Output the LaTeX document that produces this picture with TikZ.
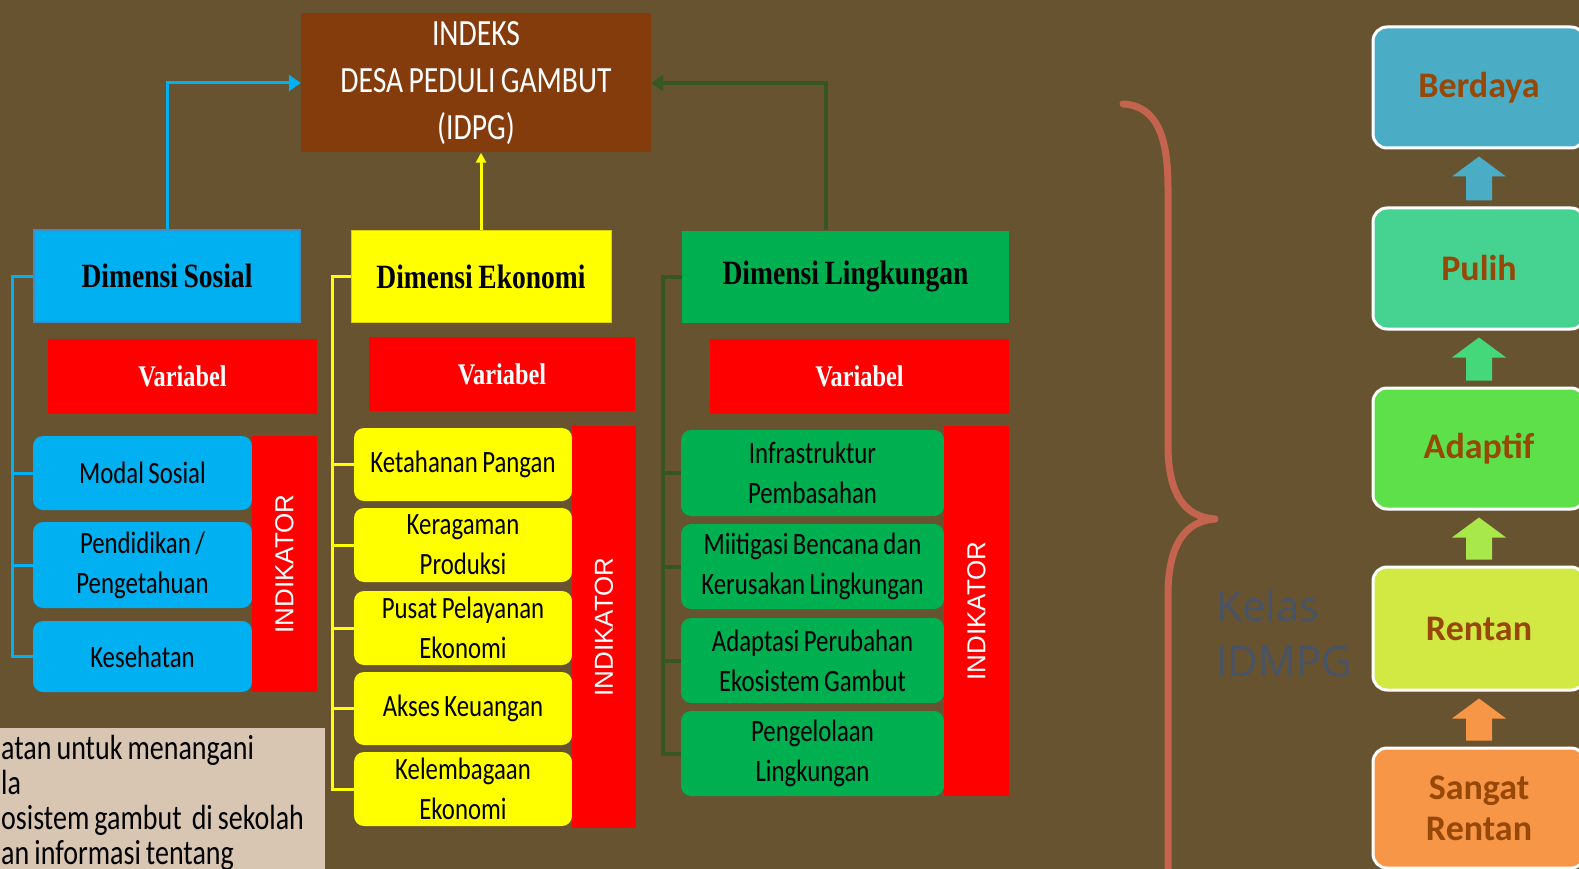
\documentclass[tikz,border=0pt]{standalone}
\usepackage{fontspec}
\setmainfont{Carlito}
\newfontfamily\calfont{Carlito}[FakeStretch=0.8, WordSpace=0.8]
\newfontfamily\camfont{Liberation Serif}[FakeStretch=0.81, WordSpace=0.81]
\newfontfamily\arfont{Liberation Sans}
\newfontfamily\segfont{Open Sans}
\usepackage{tikz}
\usetikzlibrary{arrows.meta, positioning, calc}
\usepackage{xcolor}
\definecolor{PeatBg}{HTML}{685331}
\definecolor{PeatBrown}{HTML}{843C0C}
\definecolor{SocBlue}{HTML}{00B0F0}
\definecolor{SocEdge}{HTML}{3A8FC8}
\definecolor{EcoYellow}{HTML}{FFFF00}
\definecolor{EcoEdge}{HTML}{D8D000}
\definecolor{EnvGreen}{HTML}{00B050}
\definecolor{EnvDark}{HTML}{375623}
\definecolor{VarRed}{HTML}{FF0000}
\definecolor{NoteSand}{HTML}{D8C6B3}
\definecolor{BraceRed}{HTML}{C4644E}
\definecolor{KelasGrey}{HTML}{475366}
\definecolor{LvlText}{HTML}{974706}
\definecolor{LvlBerdaya}{HTML}{4BACC6}
\definecolor{LvlPulih}{HTML}{46D291}
\definecolor{LvlAdaptif}{HTML}{5EE04A}
\definecolor{LvlRentan}{HTML}{D2E944}
\definecolor{LvlSangat}{HTML}{F79646}
\definecolor{ArrPulih}{HTML}{45D87A}
\definecolor{ArrAdaptif}{HTML}{A8E84B}
\tikzset{
    % Node styles
    indexbox/.style={
        rectangle,
        fill=PeatBrown,
        minimum width=350pt,
        minimum height=139pt,
        inner sep=0pt,
        align=center,
        text=white,
        font=\calfont\fontsize{37}{47}\selectfont
    },
    dimbox/.style={
        rectangle,
        minimum height=92pt,
        inner sep=0pt,
        text=black,
        font=\camfont\bfseries\fontsize{34}{38}\selectfont
    },
    varbox/.style={
        rectangle,
        fill=VarRed,
        minimum height=75pt,
        inner sep=0pt,
        text=white,
        font=\camfont\bfseries\fontsize{30}{34}\selectfont
    },
    indbox/.style={
        rectangle,
        rounded corners=10pt,
        inner sep=0pt,
        align=center,
        text=black,
        font=\calfont\fontsize{31}{40}\selectfont
    },
    indikator/.style={
        rectangle,
        fill=VarRed,
        inner sep=0pt,
        rotate=90,
        text=white,
        font=\arfont\fontsize{26}{30}\selectfont
    },
    lvlbox/.style={
        rectangle,
        rounded corners=14pt,
        draw=white,
        line width=3pt,
        minimum width=212pt,
        minimum height=121pt,
        align=center,
        text=LvlText,
        font=\bfseries\fontsize{36}{41}\selectfont
    },
    notebox/.style={
        rectangle,
        fill=NoteSand,
        anchor=north west,
        text width=323pt,
        minimum height=150pt,
        inner xsep=1pt,
        inner ysep=0pt,
        align=flush left,
        text=black,
        font=\calfont\fontsize{35}{35}\selectfont
    },
    % Arrow styles
    sosline/.style={SocBlue, line width=3pt},
    ekoline/.style={EcoYellow, line width=3pt},
    linline/.style={EnvDark, line width=4pt}
}
% block arrow between two levels: lower, upper, colour
\newcommand{\levelstep}[3]{%
    \coordinate (lsb) at ($(#1.north)+(0,-6)$);
    \coordinate (lst) at ($(#2.south)+(0,7)$);
    \fill[#3] ($(lsb)+(-13,0)$) -- ($(lst)+(-13,20)$) -- ($(lst)+(-27,20)$) -- (lst)
        -- ($(lst)+(27,20)$) -- ($(lst)+(13,20)$) -- ($(lsb)+(13,0)$) -- cycle;
}
\begin{document}
\begin{tikzpicture}[x=1pt, y=-1pt]
    % Canvas
    \fill[PeatBg] (0,0) rectangle (1579,869);
    \useasboundingbox (0,0) rectangle (1579,869);

    % Index
    \node[indexbox] (idpg) at (476,83) {INDEKS\\DESA PEDULI GAMBUT\\(IDPG)};

    % Dimensions
    \node[dimbox, fill=SocBlue, draw=SocEdge, line width=1.5pt, minimum width=266pt] (sosial) at (167,276) {Dimensi Sosial};
    \node[dimbox, fill=EcoYellow, draw=EcoEdge, minimum width=260pt] (ekonomi) at (481,276.5) {Dimensi Ekonomi};
    \node[dimbox, fill=EnvGreen, minimum width=327pt] (lingkungan) at (845.5,276.5) {Dimensi Lingkungan};

    % Variables
    \node[varbox, minimum width=269pt] (varsos) at (182.5,376.5) {Variabel};
    \node[varbox, minimum width=266pt, minimum height=74pt] (vareko) at (502,374) {Variabel};
    \node[varbox, minimum width=299pt] (varlin) at (859.5,376.5) {Variabel};

    % Indicators - social
    \node[indbox, fill=SocBlue, minimum width=219pt, minimum height=74pt] (modal) at (142.5,473) {Modal Sosial};
    \node[indbox, fill=SocBlue, minimum width=219pt, minimum height=86pt] (pendidikan) at (142.5,565) {Pendidikan /\\Pengetahuan};
    \node[indbox, fill=SocBlue, minimum width=219pt, minimum height=71pt] (kesehatan) at (142.5,656.5) {Kesehatan};
    \node[indikator, minimum width=256pt, minimum height=65pt] (indsos) at (284.5,564) {INDIKATOR};

    % Indicators - economy
    \node[indbox, fill=EcoYellow, minimum width=218pt, minimum height=73pt] (pangan) at (463,464.5) {Ketahanan Pangan};
    \node[indbox, fill=EcoYellow, minimum width=218pt, minimum height=74pt] (produksi) at (463,545) {Keragaman\\Produksi};
    \node[indbox, fill=EcoYellow, minimum width=218pt, minimum height=74pt] (pusat) at (463,628) {Pusat Pelayanan\\Ekonomi};
    \node[indbox, fill=EcoYellow, minimum width=218pt, minimum height=73pt] (akses) at (463,708.5) {Akses Keuangan};
    \node[indbox, fill=EcoYellow, minimum width=218pt, minimum height=74pt] (lembaga) at (463,789) {Kelembagaan\\Ekonomi};
    \node[indikator, minimum width=402pt, minimum height=64pt] (indeko) at (604,627) {INDIKATOR};

    % Indicators - environment
    \node[indbox, fill=EnvGreen, minimum width=263pt, minimum height=86pt] (infra) at (812.5,473) {Infrastruktur\\Pembasahan};
    \node[indbox, fill=EnvGreen, minimum width=263pt, minimum height=85pt] (mitigasi) at (812.5,566.5) {Miitigasi Bencana dan\\Kerusakan Lingkungan};
    \node[indbox, fill=EnvGreen, minimum width=263pt, minimum height=85pt] (adaptasi) at (812.5,660.5) {Adaptasi Perubahan\\Ekosistem Gambut};
    \node[indbox, fill=EnvGreen, minimum width=263pt, minimum height=85pt] (kelola) at (812.5,753.5) {Pengelolaan\\Lingkungan};
    \node[indikator, minimum width=370pt, minimum height=65pt] (indlin) at (976.5,611) {INDIKATOR};

    % Connectors to index
    \draw[sosline, -{Triangle[length=12pt,width=16pt]}] (sosial.north) |- (idpg.west);
    \draw[ekoline, -{Triangle[length=10pt,width=10pt]}] (ekonomi.north) -- (ekonomi.north |- idpg.south);
    \draw[linline, -{Triangle[length=12pt,width=16pt]}] ([xshift=-20pt]lingkungan.north) |- (idpg.east);

    % Spines
    \coordinate (sspine) at (12,0);
    \coordinate (espine) at (332,0);
    \coordinate (lspine) at (663,0);
    \draw[sosline] (sosial.west) -- (sosial.west -| sspine) |- (kesehatan.west);
    \foreach \n in {modal, pendidikan}
        \draw[sosline] (\n.west) -- (\n.west -| sspine);
    \draw[ekoline] (ekonomi.west) -- (ekonomi.west -| espine) |- (lembaga.west);
    \foreach \n in {pangan, produksi, pusat, akses}
        \draw[ekoline] (\n.west) -- (\n.west -| espine);
    \draw[linline] (lingkungan.west) -- (lingkungan.west -| lspine) |- (kelola.west);
    \foreach \n in {infra, mitigasi, adaptasi}
        \draw[linline] (\n.west) -- (\n.west -| lspine);

    % Note box
    \node[notebox] (catatan) at (0,728) {atan untuk menangani\\la\\osistem gambut\ \ di sekolah\\an informasi tentang};

    % Brace
    \draw[BraceRed, line width=7pt, line cap=round, line join=round]
        (1123,104) .. controls (1163,106) and (1168,150) .. (1168,190) -- (1168,445)
        .. controls (1168,495) and (1185,517) .. (1215,519)
        .. controls (1185,521) and (1168,545) .. (1168,595) -- (1168,880);
    \node[anchor=north west, inner sep=0pt, align=left, text=KelasGrey, font=\segfont\fontsize{42}{55}\selectfont] (kelas) at (1216,589) {Kelas\\IDMPG};

    % Levels
    \node[lvlbox, fill=LvlBerdaya] (berdaya) at (1479,87.5) {Berdaya};
    \node[lvlbox, fill=LvlPulih] (pulih) at (1479,268.5) {Pulih};
    \node[lvlbox, fill=LvlAdaptif] (adaptif) at (1479,448.5) {Adaptif};
    \node[lvlbox, fill=LvlRentan, minimum height=123pt] (rentan) at (1479,628.5) {Rentan};
    \node[lvlbox, fill=LvlSangat, minimum height=120pt] (sangat) at (1479,808) {Sangat\\Rentan};
    \levelstep{pulih}{berdaya}{LvlBerdaya}
    \levelstep{adaptif}{pulih}{ArrPulih}
    \levelstep{rentan}{adaptif}{ArrAdaptif}
    \levelstep{sangat}{rentan}{LvlSangat}
\end{tikzpicture}
\end{document}
